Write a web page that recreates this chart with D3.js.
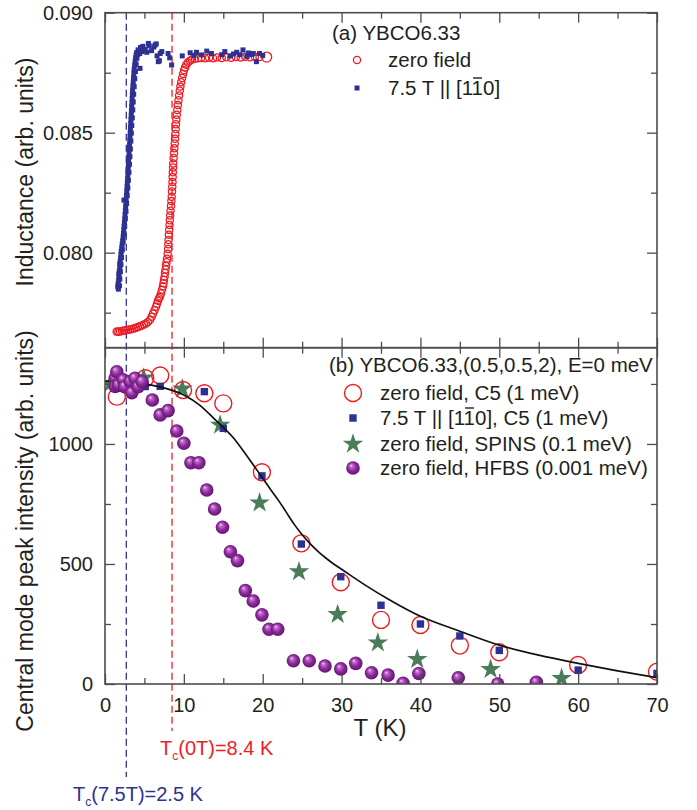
<!DOCTYPE html>
<html>
<head>
<meta charset="utf-8">
<script src="https://cdn.jsdelivr.net/npm/d3@7"></script>
<style>
  body { margin: 0; background: #fff; }
  text { font-family: "Liberation Sans", Arial, sans-serif; }
</style>
</head>
<body>
<svg id="chart" width="697" height="810"></svg>
<script>
// ---- data ----
// (a) inductance vs T
let zeroFieldL = [
  [1.48,0.07671],[1.69,0.07670],[1.90,0.07672],[2.16,0.07674],[2.41,0.07676],[2.66,0.07677],
  [2.92,0.07679],[3.17,0.07680],[3.42,0.07682],[3.68,0.07684],[3.93,0.07687],[4.18,0.07690],
  [4.44,0.07693],[4.69,0.07697],[4.95,0.07701],[5.20,0.07705],[5.45,0.07711],[5.71,0.07720],
  [5.92,0.07733],[6.09,0.07746],[6.28,0.07760],[6.47,0.07775],[6.59,0.07787],[6.72,0.07800],
  [6.85,0.07810],[6.97,0.07817],[7.10,0.07830],[7.23,0.07845],[7.35,0.07860],[7.42,0.07873],
  [7.48,0.07886],[7.55,0.07900],[7.61,0.07915],[7.67,0.07930],[7.74,0.07945],[7.80,0.07960],
  [7.86,0.07975],[7.95,0.07995],[8.00,0.08015],[8.03,0.08035],[8.06,0.08053],[8.10,0.08075],
  [8.14,0.08095],[8.18,0.08115],[8.22,0.08135],[8.26,0.08155],[8.31,0.08175],[8.37,0.08195],
  [8.42,0.08215],[8.46,0.08233],[8.50,0.08255],[8.53,0.08275],[8.56,0.08295],[8.58,0.08315],
  [8.60,0.08335],[8.63,0.08355],[8.66,0.08372],[8.70,0.08395],[8.75,0.08415],[8.79,0.08435],
  [8.84,0.08455],[8.88,0.08475],[8.92,0.08495],[8.96,0.08515],[9.00,0.08535],[9.05,0.08555],
  [9.10,0.08575],[9.17,0.08595],[9.24,0.08615],[9.32,0.08635],[9.40,0.08655],[9.48,0.08675],
  [9.56,0.08692],[9.66,0.08710],[9.78,0.08728],[9.90,0.08745],[10.02,0.08760],[10.15,0.08772],
  [10.30,0.08783],[10.50,0.08792],[10.78,0.08800],[11.03,0.08805],[11.4,0.08808],[11.8,0.08810],
  [12.2,0.08811],[12.7,0.08810],[13.2,0.08812],[13.7,0.08810],[14.2,0.08813],[14.8,0.08811],
  [15.4,0.08814],[16.0,0.08812],[16.6,0.08815],[17.2,0.08813],[17.8,0.08816],[18.4,0.08814],
  [19.0,0.08816],[19.6,0.08815],[20.5,0.08815]
];
let fieldL = [
  [1.62,0.07858],[1.70,0.07848],[1.66,0.07870],[1.72,0.07885],[1.78,0.07898],[1.75,0.07912],
  [1.82,0.07925],[1.88,0.07938],[1.86,0.07952],[1.93,0.07965],[1.98,0.07978],[2.02,0.07992],
  [2.06,0.08005],[2.12,0.08020],[2.18,0.08035],[2.25,0.08050],[2.30,0.08065],[2.34,0.08080],
  [2.38,0.08095],[2.42,0.08110],[2.46,0.08125],[2.50,0.08140],[2.54,0.08158],[2.58,0.08175],
  [2.62,0.08190],[2.65,0.08205],[2.40,0.08219],[2.69,0.08222],[2.72,0.08240],[2.76,0.08258],
  [2.80,0.08275],[2.83,0.08292],[2.87,0.08310],[2.90,0.08328],[2.93,0.08345],[2.96,0.08362],
  [2.99,0.08380],[3.02,0.08398],[3.05,0.08415],[3.08,0.08432],[3.11,0.08450],[3.14,0.08468],
  [3.17,0.08485],[3.20,0.08502],[3.23,0.08520],[3.26,0.08538],[3.29,0.08555],[3.32,0.08572],
  [3.35,0.08590],[3.38,0.08608],[3.41,0.08625],[3.44,0.08642],[3.47,0.08660],[3.50,0.08678],
  [3.54,0.08695],[3.58,0.08712],[3.62,0.08730],[3.66,0.08748],[3.70,0.08765],[3.76,0.08782],
  [3.82,0.08798],[3.88,0.08812],[3.95,0.08825],[4.02,0.08834],
  [4.2,0.08845],[4.4,0.08830],[4.44,0.08768],[4.5,0.08855],[4.65,0.08838],[4.8,0.08860],
  [4.9,0.08842],[5.1,0.08848],[5.3,0.08835],[5.5,0.08872],[5.6,0.08862],[5.9,0.08842],
  [6.2,0.08857],[6.34,0.08865],[6.5,0.08870],[6.6,0.08820],[6.76,0.08796],[6.9,0.08800],
  [7.0,0.08830],[7.2,0.08838],[8.0,0.08830],[8.2,0.08812],[8.45,0.08782],[9.8,0.08820],
  [10.8,0.08833],[11.3,0.08822],[11.6,0.08835],[12.25,0.08824],[12.9,0.08840],[13.5,0.08830],
  [14.8,0.08825],[15.2,0.08838],[15.9,0.08820],[16.3,0.08828],[16.7,0.08835],[17.1,0.08825],
  [17.5,0.08845],[18.0,0.08818],[18.2,0.08832],[18.6,0.08826],[18.8,0.08830],[19.2,0.08796],
  [19.6,0.08830],[20.0,0.08822]
];
// right-hand edge of the thick 7.5 T band
let fieldBandL = [
  [1.84,0.07862],[1.88,0.07890],[1.95,0.07920],[2.02,0.07950],[2.10,0.07980],[2.20,0.08012],
  [2.30,0.08045],[2.40,0.08078],[2.50,0.08110],[2.58,0.08142],[2.66,0.08172],[2.74,0.08205],
  [2.82,0.08238],[2.90,0.08270],[2.97,0.08302],[3.04,0.08335],[3.10,0.08368],[3.16,0.08400],
  [3.22,0.08432],[3.28,0.08465],[3.34,0.08498],[3.40,0.08530],[3.46,0.08562],[3.52,0.08595],
  [3.58,0.08628],[3.64,0.08660],[3.70,0.08692],[3.78,0.08725],[3.86,0.08755],[3.95,0.08785],
  [4.05,0.08810],[4.15,0.08826]
];

// (b) central mode peak intensity vs T
let c5ZeroT  = [1.5, 5.1, 7.0, 9.9, 12.6, 15.0, 19.9, 24.9, 29.9, 35, 40, 45, 50, 60, 70];
let c5ZeroI  = [1197, 1274, 1285, 1225, 1211, 1169, 882, 586, 424, 267, 246, 160, 132, 79, 51];
let c5FieldT = [5.1, 7.0, 12.6, 15.0, 19.9, 24.9, 29.9, 35, 40, 45, 50, 60, 70];
let c5FieldI = [1239, 1240, 1218, 1065, 867, 583, 447, 328, 250, 200, 140, 58, 44];
let spinsT   = [0.7, 4.9, 9.8, 14.6, 19.6, 24.6, 29.5, 34.6, 39.6, 48.9, 57.9];
let spinsI   = [1253, 1275, 1230, 1079, 755, 468, 290, 172, 103, 61, 24];
let hfbsT = [1.3, 1.5, 1.3, 1.7, 2.3, 2.5, 3.2, 3.4, 3.8, 4.2, 4.7, 6.0, 7.0, 8.0, 9.1, 10.0,
             10.9, 11.9, 12.9, 13.9, 14.9, 15.9, 16.8, 17.8, 18.8, 19.9, 20.8, 21.9, 23.9,
             25.9, 27.9, 29.9, 31.8, 33.8, 35.9, 37.8, 39.8, 44.8, 49.8, 54.7];
let hfbsI = [1274, 1301, 1240, 1246, 1267, 1239, 1260, 1214, 1274, 1239, 1260, 1183, 1121, 1139,
             1054, 1003, 922, 922, 808, 729, 653, 551, 514, 389, 346, 288, 228, 228, 97,
             97, 75, 63, 86, 47, 37, 3, 44, 26, 0, 7];
let fitT = [0, 3, 5, 7, 10, 12, 14, 16.3, 18, 20, 21, 22, 23, 24, 25, 26, 27, 28, 29, 30,
            33, 36, 40, 45, 50, 55, 60, 65, 70];
let fitI = [1262, 1258, 1250, 1238, 1204, 1162, 1100, 1025, 950, 857, 810, 765, 715, 665, 622,
            585, 553, 525, 500, 478, 412, 352, 282, 220, 162, 120, 86, 55, 26];

let tcZero = 8.5, tcField = 2.7;   // dashed markers

let xMajor = [0, 10, 20, 30, 40, 50, 60, 70];
let xMinor = [5, 15, 25, 35, 45, 55, 65];
let topMajor = [0.080, 0.085, 0.090], topMinor = [0.0775, 0.0825, 0.0875];
let botMajor = [0, 500, 1000], botMinor = [250, 750, 1250];

// ---- layout ----
let svg = d3.select("#chart");
let left = 105, right = 657, topA = 12.7, mid = 347.7, bottom = 684;
let frameColor = "#4d4d4d";
let red = "#ed1c24", navy = "#2e3192", green = "#4a7c59";

let x = d3.scaleLinear().domain([0, 70]).range([left, right]);
let yTop = d3.scaleLinear().domain([0.07604, 0.090]).range([mid, topA]);
let yBot = d3.scaleLinear().domain([0, 1401]).range([bottom, mid]);

let defs = svg.append("defs");
let grad = defs.append("radialGradient").attr("id", "ball")
    .attr("cx", "0.5").attr("cy", "0.5").attr("r", "0.55")
    .attr("fx", "0.35").attr("fy", "0.3");
grad.append("stop").attr("offset", "0%").attr("stop-color", "#f8e6f8");
grad.append("stop").attr("offset", "18%").attr("stop-color", "#c274ca");
grad.append("stop").attr("offset", "55%").attr("stop-color", "#8f2a9e");
grad.append("stop").attr("offset", "100%").attr("stop-color", "#5a1264");

defs.append("clipPath").attr("id", "clipTop").append("rect")
    .attr("x", left).attr("y", topA).attr("width", right - left).attr("height", mid - topA);
defs.append("clipPath").attr("id", "clipBot").append("rect")
    .attr("x", left).attr("y", mid).attr("width", right - left).attr("height", bottom - mid);

function styleAxis(g) {
    g.select(".domain").remove();
    g.attr("font-size", 20).attr("font-family", null).attr("fill", "#231f20");
    g.selectAll(".tick line").attr("stroke", frameColor).attr("stroke-width", 1.3);
    g.selectAll(".tick text").attr("fill", "#231f20");
}

function panelAxes(y, major, minor, fmt, y0, y1, showX) {
    svg.append("g").attr("transform", "translate(" + left + ",0)")
        .call(d3.axisLeft(y).tickValues(major).tickSizeInner(-10).tickSizeOuter(0)
            .tickPadding(12).tickFormat(fmt)).call(styleAxis);
    svg.append("g").attr("transform", "translate(" + left + ",0)")
        .call(d3.axisLeft(y).tickValues(minor).tickSize(-6).tickFormat("")).call(styleAxis);
    svg.append("g").attr("transform", "translate(" + right + ",0)")
        .call(d3.axisRight(y).tickValues(major).tickSize(-10).tickFormat("")).call(styleAxis);
    svg.append("g").attr("transform", "translate(" + right + ",0)")
        .call(d3.axisRight(y).tickValues(minor).tickSize(-6).tickFormat("")).call(styleAxis);
    svg.append("g").attr("transform", "translate(0," + y0 + ")")
        .call(d3.axisTop(x).tickValues(xMajor).tickSize(-10).tickFormat("")).call(styleAxis);
    svg.append("g").attr("transform", "translate(0," + y0 + ")")
        .call(d3.axisTop(x).tickValues(xMinor).tickSize(-6).tickFormat("")).call(styleAxis);
    svg.append("g").attr("transform", "translate(0," + y1 + ")")
        .call(d3.axisBottom(x).tickValues(xMajor).tickSizeInner(-10).tickSizeOuter(0)
            .tickPadding(14).tickFormat(showX ? d3.format("d") : "")).call(styleAxis);
    svg.append("g").attr("transform", "translate(0," + y1 + ")")
        .call(d3.axisBottom(x).tickValues(xMinor).tickSize(-6).tickFormat("")).call(styleAxis);
    svg.append("rect").attr("x", left).attr("y", y0)
        .attr("width", right - left).attr("height", y1 - y0)
        .attr("fill", "none").attr("stroke", frameColor).attr("stroke-width", 1.6);
}

// ---- dashed Tc markers ----
svg.append("line").attr("x1", x(tcField)).attr("x2", x(tcField))
    .attr("y1", topA).attr("y2", 777)
    .attr("stroke", navy).attr("stroke-width", 1.3).attr("stroke-dasharray", "7,4");
svg.append("line").attr("x1", x(tcZero)).attr("x2", x(tcZero))
    .attr("y1", topA).attr("y2", 731)
    .attr("stroke", red).attr("stroke-width", 1.3).attr("stroke-dasharray", "7,4");

// ---- panel (a) ----
let gA = svg.append("g").attr("clip-path", "url(#clipTop)");
gA.selectAll("circle.zf").data(zeroFieldL).enter().append("circle")
    .attr("cx", d => x(d[0])).attr("cy", d => yTop(d[1]))
    .attr("r", (d, i) => i === zeroFieldL.length - 1 ? 5 : 3.6)
    .attr("fill", "none").attr("stroke", red).attr("stroke-width", 1.3);
gA.selectAll("rect.ff").data(fieldL.concat(fieldBandL)).enter().append("rect")
    .attr("x", d => x(d[0]) - 2.5).attr("y", d => yTop(d[1]) - 2.5)
    .attr("width", 5).attr("height", 5).attr("fill", navy);

// ---- panel (b) ----
let gB = svg.append("g").attr("clip-path", "url(#clipBot)");
let star = d3.symbol().type(d3.symbolStar).size(130);
gB.selectAll("path.spins").data(spinsT).enter().append("path")
    .attr("d", star)
    .attr("transform", (d, i) => "translate(" + x(d) + "," + yBot(spinsI[i]) + ")")
    .attr("fill", green);
gB.selectAll("circle.c5").data(c5ZeroT).enter().append("circle")
    .attr("cx", d => x(d)).attr("cy", (d, i) => yBot(c5ZeroI[i])).attr("r", 8.5)
    .attr("fill", "none").attr("stroke", red).attr("stroke-width", 1.4);
gB.selectAll("rect.c5f").data(c5FieldT).enter().append("rect")
    .attr("x", d => x(d) - 3.7).attr("y", (d, i) => yBot(c5FieldI[i]) - 3.7)
    .attr("width", 7.4).attr("height", 7.4).attr("fill", navy);
let line = d3.line().x(d => x(d[0])).y(d => yBot(d[1])).curve(d3.curveMonotoneX);
gB.append("path").datum(fitT.map((t, i) => [t, fitI[i]]))
    .attr("d", line).attr("fill", "none").attr("stroke", "#111").attr("stroke-width", 1.7);
gB.selectAll("circle.hfbs").data(hfbsT).enter().append("circle")
    .attr("cx", d => x(d)).attr("cy", (d, i) => yBot(hfbsI[i])).attr("r", 6.8)
    .attr("fill", "url(#ball)");

panelAxes(yTop, topMajor, topMinor, d3.format(".3f"), topA, mid, false);
panelAxes(yBot, botMajor, botMinor, d3.format("d"), mid, bottom, true);

// ---- axis titles ----
svg.append("text").attr("transform", "translate(33,172) rotate(-90)")
    .attr("text-anchor", "middle").attr("font-size", 23).attr("fill", "#231f20")
    .text("Inductance (arb. units)");
svg.append("text").attr("transform", "translate(33,531) rotate(-90)")
    .attr("text-anchor", "middle").attr("font-size", 23).attr("fill", "#231f20")
    .text("Central mode peak intensity (arb. units)");
svg.append("text").attr("x", 380).attr("y", 736)
    .attr("text-anchor", "middle").attr("font-size", 24).attr("fill", "#231f20")
    .text("T (K)");

// ---- Tc labels ----
function tcLabel(xp, yp, color, rest) {
    let t = svg.append("text").attr("x", xp).attr("y", yp)
        .attr("font-size", 20).attr("fill", color);
    t.append("tspan").text("T");
    t.append("tspan").attr("font-size", 12).attr("dy", 5).text("c");
    t.append("tspan").attr("dy", -5).text(rest);
}
tcLabel(160, 755, red, "(0T)=8.4 K");
tcLabel(73, 801, navy, "(7.5T)=2.5 K");

// overline over one character of a text element
function overline(textSel, idx) {
    let e = textSel.node().getExtentOfChar(idx);
    svg.append("line")
        .attr("x1", e.x + 1.5).attr("x2", e.x + e.width - 1)
        .attr("y1", e.y + 2).attr("y2", e.y + 2)
        .attr("stroke", "#231f20").attr("stroke-width", 1.4);
}

// ---- legend (a) ----
let legFs = 20.5;
svg.append("text").attr("x", 332).attr("y", 40).attr("font-size", legFs)
    .attr("fill", "#231f20").text("(a) YBCO6.33");
svg.append("circle").attr("cx", 357).attr("cy", 60).attr("r", 3.6)
    .attr("fill", "none").attr("stroke", red).attr("stroke-width", 1.3);
svg.append("text").attr("x", 388).attr("y", 67).attr("font-size", legFs)
    .attr("fill", "#231f20").text("zero field");
svg.append("rect").attr("x", 357 - 2.5).attr("y", 88 - 2.5).attr("width", 5).attr("height", 5)
    .attr("fill", navy);
let la = svg.append("text").attr("x", 388).attr("y", 95).attr("font-size", legFs)
    .attr("fill", "#231f20").text("7.5 T || [110]");
overline(la, 11);

// ---- legend (b) ----
svg.append("text").attr("x", 329).attr("y", 372).attr("font-size", legFs)
    .attr("fill", "#231f20").text("(b) YBCO6.33,(0.5,0.5,2), E=0 meV");
svg.append("circle").attr("cx", 353).attr("cy", 393).attr("r", 8.5)
    .attr("fill", "none").attr("stroke", red).attr("stroke-width", 1.4);
svg.append("rect").attr("x", 353 - 3.7).attr("y", 418 - 3.7).attr("width", 7.4).attr("height", 7.4)
    .attr("fill", navy);
svg.append("path").attr("d", star).attr("transform", "translate(353,444)").attr("fill", green);
svg.append("circle").attr("cx", 353).attr("cy", 468).attr("r", 6.8).attr("fill", "url(#ball)");
svg.append("text").attr("x", 380).attr("y", 400).attr("font-size", legFs)
    .attr("fill", "#231f20").text("zero field, C5 (1 meV)");
let lb = svg.append("text").attr("x", 380).attr("y", 425).attr("font-size", legFs)
    .attr("fill", "#231f20").text("7.5 T || [110], C5 (1 meV)");
overline(lb, 11);
svg.append("text").attr("x", 380).attr("y", 451).attr("font-size", legFs)
    .attr("fill", "#231f20").text("zero field, SPINS (0.1 meV)");
svg.append("text").attr("x", 380).attr("y", 475).attr("font-size", legFs)
    .attr("fill", "#231f20").text("zero field, HFBS (0.001 meV)");
</script>
</body>
</html>
